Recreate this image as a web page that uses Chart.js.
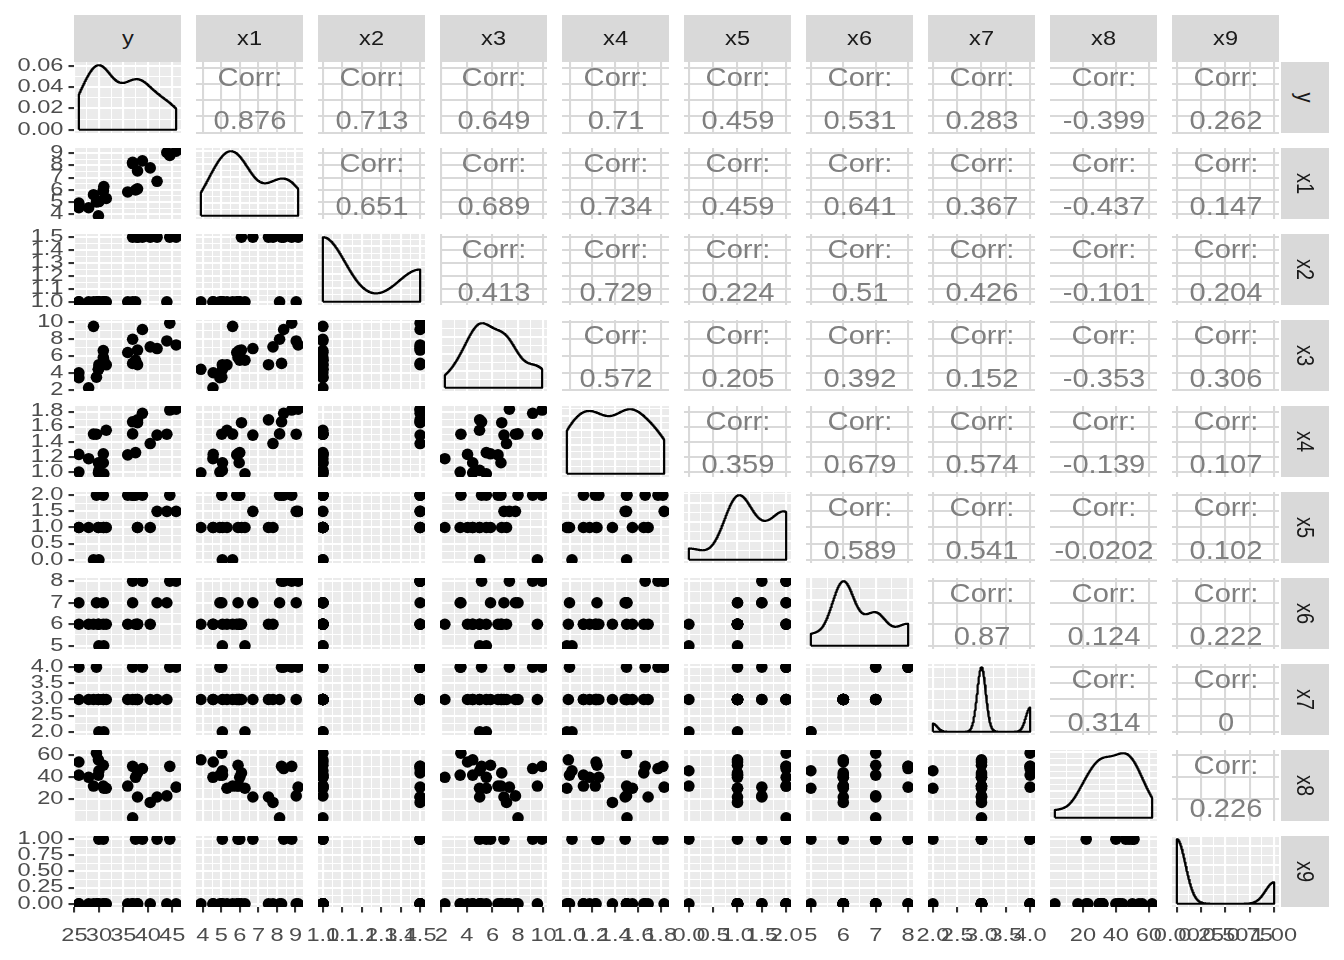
<!DOCTYPE html>
<html><head><meta charset="utf-8">
<script src="https://cdn.jsdelivr.net/npm/chart.js@4.4.1/dist/chart.umd.min.js"></script>
<style>
html,body{margin:0;padding:0;background:#fff;}
#wrap{position:relative;width:1344px;height:960px;overflow:hidden;font-family:'Liberation Sans',Arial,Helvetica,sans-serif;}
#wrap canvas{position:absolute;}
.strip{position:absolute;background:#D9D9D9;color:#1A1A1A;font-size:20px;display:flex;align-items:center;justify-content:center;}
.strip span{display:inline-block;transform:scaleX(1.18);}
.strip.r span{transform:rotate(90deg) scaleY(1.18);}
.corr{position:absolute;color:#7F7F7F;font-size:26.5px;line-height:28px;white-space:nowrap;transform:translateX(-50%) scaleX(1.1);}
</style></head>
<body><div id="wrap"></div>
<script>
// ---- data: 24 observations ----
const varNames = ['y','x1','x2','x3','x4','x5','x6','x7','x8','x9'];
const yVals  = [25.9,29.5,27.9,25.9,29.9,29.9,30.9,28.9,35.9,31.5,31.0,30.9,30.0,36.9,41.9,40.5,43.9,37.5,37.9,44.5,37.9,38.9,36.9,45.8];
const x1Vals = [4.9176,5.0208,4.5429,4.5573,5.0597,3.8910,5.8980,5.6039,5.8282,5.3003,6.2712,5.9592,5.0500,8.2464,6.6969,7.7841,9.0384,5.9894,7.5422,8.7951,6.0831,8.3607,8.1400,9.1416];
const x2Vals = [1.0,1.0,1.0,1.0,1.0,1.0,1.0,1.0,1.0,1.0,1.0,1.0,1.0,1.5,1.5,1.5,1.0,1.0,1.5,1.5,1.5,1.5,1.0,1.5];
const x3Vals = [3.472,3.531,2.275,4.050,4.455,4.455,5.850,9.520,6.435,4.988,5.520,6.666,5.000,5.150,6.902,7.102,7.800,5.520,5.000,9.890,6.727,9.150,8.000,7.326];
const x4Vals = [0.998,1.500,1.175,1.232,1.121,0.988,1.240,1.501,1.225,1.552,0.975,1.121,1.020,1.664,1.488,1.376,1.500,1.256,1.690,1.820,1.652,1.777,1.504,1.831];
const x5Vals = [1,2,1,1,1,1,1,0,2,1,1,2,0,2,1.5,1,1.5,2,1,2,1,2,2,1.5];
const x6Vals = [7,7,6,6,6,6,7,6,6,6,5,6,5,8,7,6,7,6,6,8,6,8,7,8];
const x7Vals = [4,4,3,3,3,3,3,3,3,3,2,3,2,4,3,3,3,3,3,4,3,4,3,4];
const x8Vals = [42,62,40,54,42,56,51,32,32,30,30,32,46,50,22,17,23,40,22,50,44,48,3,31];
const x9Vals = [0,0,0,0,0,0,1,0,0,0,0,0,1,0,1,0,0,1,0,1,0,1,0,0];

// ---- tick labels ----
const yTicks  = ['25','30','35','40','45'];
const x1Ticks = ['4','5','6','7','8','9'];
const x2Ticks = ['1.0','1.1','1.2','1.3','1.4','1.5'];
const x3Ticks = ['2','4','6','8','10'];
const x4Ticks = ['1.0','1.2','1.4','1.6','1.8'];
const x5Ticks = ['0.0','0.5','1.0','1.5','2.0'];
const x6Ticks = ['5','6','7','8'];
const x7Ticks = ['2.0','2.5','3.0','3.5','4.0'];
const x8Ticks = ['20','40','60'];
const x9Ticks = ['0.00','0.25','0.50','0.75','1.00'];
const yDensTicks = ['0.00','0.02','0.04','0.06'];

// ---- correlation labels (upper triangle, by row) ----
const corrY  = ['0.876','0.713','0.649','0.71','0.459','0.531','0.283','-0.399','0.262'];
const corrX1 = ['0.651','0.689','0.734','0.459','0.641','0.367','-0.437','0.147'];
const corrX2 = ['0.413','0.729','0.224','0.51','0.426','-0.101','0.204'];
const corrX3 = ['0.572','0.205','0.392','0.152','-0.353','0.306'];
const corrX4 = ['0.359','0.679','0.574','-0.139','0.107'];
const corrX5 = ['0.589','0.541','-0.0202','0.102'];
const corrX6 = ['0.87','0.124','0.222'];
const corrX7 = ['0.314','0'];
const corrX8 = ['0.226'];

const valsList  = [yVals,x1Vals,x2Vals,x3Vals,x4Vals,x5Vals,x6Vals,x7Vals,x8Vals,x9Vals];
const ticksList = [yTicks,x1Ticks,x2Ticks,x3Ticks,x4Ticks,x5Ticks,x6Ticks,x7Ticks,x8Ticks,x9Ticks];
const corrRows  = [corrY,corrX1,corrX2,corrX3,corrX4,corrX5,corrX6,corrX7,corrX8];

// ---- layout ----
const W = 107, H = 71, P = 28, AXW = 74, AXH = 46;
const colLeft = j => 74 + 122 * j;
const rowTop  = i => 62 + 86 * i;
const AXIS_FONT = { family: "'Liberation Sans', Arial, Helvetica, sans-serif", size: 17.5 };
const LABEL_STRETCH = 1.35;

Chart.defaults.font.family = "'Liberation Sans', Arial, Helvetica, sans-serif";

function expandRange(lo, hi) { const d = hi - lo; return [lo - 0.05 * d, hi + 0.05 * d]; }
function varRange(v) { return expandRange(Math.min(...v), Math.max(...v)); }

function withMinors(majVals, majLabs, min, max) {
  const step = majVals.length > 1 ? majVals[1] - majVals[0] : 1;
  const out = majVals.map((v, k) => ({ value: v, lab: majLabs[k], minor: false }))
    .filter(t => t.value >= min - 1e-12 && t.value <= max + 1e-12);
  const mins = [majVals[0] - step / 2, majVals[majVals.length - 1] + step / 2];
  for (let k = 0; k < majVals.length - 1; k++) mins.push((majVals[k] + majVals[k + 1]) / 2);
  mins.filter(v => v >= min && v <= max).forEach(v => out.push({ value: v, lab: '', minor: true }));
  return out.sort((a, b) => a.value - b.value);
}
function labelTicks(labs, min, max) { return withMinors(labs.map(Number), labs, min, max); }
function niceMajors(min, max) {
  const raw = (max - min) / 4;
  const p = Math.pow(10, Math.floor(Math.log10(raw)));
  const f = raw / p;
  const step = (f < 1.5 ? 1 : f < 2.25 ? 2 : f < 3.5 ? 2.5 : f < 7.5 ? 5 : 10) * p;
  const out = [];
  for (let v = Math.ceil(min / step) * step; v <= max + 1e-12; v += step) out.push(+v.toFixed(10));
  return out;
}

// density (gaussian kernel, bw.nrd0) computed from the observations
function q7(s, p) { const h = (s.length - 1) * p, lo = Math.floor(h); const hi = Math.min(lo + 1, s.length - 1); return s[lo] + (h - lo) * (s[hi] - s[lo]); }
function bwNrd0(v) {
  const n = v.length, m = v.reduce((a, b) => a + b, 0) / n;
  const sd = Math.sqrt(v.reduce((a, b) => a + (b - m) * (b - m), 0) / (n - 1));
  const s = [...v].sort((a, b) => a - b);
  let lo = Math.min(sd, (q7(s, 0.75) - q7(s, 0.25)) / 1.34);
  if (!lo) lo = sd || Math.abs(v[0]) || 1;
  return 0.9 * lo * Math.pow(n, -0.2);
}
function densityPolygon(v) {
  const bw = bwNrd0(v), lo = Math.min(...v), hi = Math.max(...v), n = v.length;
  const pts = [{ x: lo, y: 0 }];
  let mx = 0;
  for (let k = 0; k < 512; k++) {
    const x = lo + (hi - lo) * k / 511;
    let s = 0;
    for (const xi of v) { const z = (x - xi) / bw; s += Math.exp(-0.5 * z * z); }
    const y = s / (n * bw * Math.sqrt(2 * Math.PI));
    if (y > mx) mx = y;
    pts.push({ x, y });
  }
  pts.push({ x: hi, y: 0 }, { x: lo, y: 0 });
  return { pts, mx };
}

const bgPlugin = {
  id: 'panelBg',
  beforeDraw(chart, args, opts) {
    const a = chart.chartArea, c = chart.ctx;
    c.save(); c.fillStyle = opts.color; c.fillRect(a.left, a.top, a.right - a.left, a.bottom - a.top); c.restore();
    // tick labels in the reference are drawn horizontally widened
    if (!c._origFillText) {
      const orig = c.fillText;
      c._origFillText = orig;
      c.fillText = function (t, x, y, mw) {
        this.save(); this.translate(x, y); this.scale(LABEL_STRETCH, 1);
        orig.call(this, t, 0, 0); this.restore();
      };
    }
  },
  beforeDatasetsDraw(chart) {
    const c = chart.ctx;
    if (c._origFillText) { c.fillText = c._origFillText; delete c._origFillText; }
  }
};

function scaleCfg(axis, tickArr, min, max, show, majorColor, minorColor) {
  return {
    type: 'linear', position: axis === 'x' ? 'bottom' : 'left', min, max, bounds: 'data',
    grid: {
      display: true, drawOnChartArea: true, drawTicks: show,
      tickLength: 5.5, tickWidth: 2.1,
      tickColor: c => (c.tick && c.tick.minor) ? 'rgba(0,0,0,0)' : '#333333',
      color: c => (c.tick && c.tick.minor) ? minorColor : majorColor,
      lineWidth: c => (c.tick && c.tick.minor) ? 1.05 : 2.1
    },
    border: { display: false },
    ticks: {
      display: show, autoSkip: false, maxRotation: 0, minRotation: 0,
      padding: axis === 'x' ? 13 : 5, color: '#4D4D4D', font: AXIS_FONT,
      callback: (v, i, t) => (t[i] && t[i].lab) || ''
    },
    afterBuildTicks: s => { s.ticks = tickArr.map(t => ({ value: t.value, lab: t.lab, minor: t.minor })); },
    afterFit: s => {
      if (axis === 'x') s.height = show ? AXH : 0; else s.width = show ? AXW : 0;
      s.paddingLeft = 0; s.paddingRight = 0; s.paddingTop = 0; s.paddingBottom = 0;
    }
  };
}

const wrap = document.getElementById('wrap');
const N = varNames.length;

for (let i = 0; i < N; i++) {
  for (let j = 0; j < N; j++) {
    const showY = j === 0, showX = i === N - 1;
    const padL = showY ? 0 : P, padB = showX ? 0 : P;
    const cw = (showY ? AXW : P) + W + P;
    const ch = P + H + (showX ? AXH : P);
    const cv = document.createElement('canvas');
    cv.width = cw; cv.height = ch;
    cv.style.left = (colLeft(j) - (showY ? AXW : P)) + 'px';
    cv.style.top = (rowTop(i) - P) + 'px';
    cv.style.width = cw + 'px'; cv.style.height = ch + 'px';
    wrap.appendChild(cv);

    const [xmin, xmax] = varRange(valsList[j]);
    const xt = labelTicks(ticksList[j], xmin, xmax);
    let ymin, ymax, yt, datasets = [], bg, major, minor;

    if (i === j) {
      const d = densityPolygon(valsList[j]);
      [ymin, ymax] = expandRange(0, d.mx);
      if (i === 0) yt = labelTicks(yDensTicks, ymin, ymax);
      else { const mj = niceMajors(ymin, ymax); yt = withMinors(mj, mj.map(String), ymin, ymax); }
      datasets = [{ data: d.pts, showLine: true, borderColor: '#000', borderWidth: 2.2, pointRadius: 0, pointHoverRadius: 0, fill: false, tension: 0, clip: 0, borderJoinStyle: 'round' }];
      bg = '#EBEBEB'; major = '#FFFFFF'; minor = '#FFFFFF';
    } else {
      [ymin, ymax] = varRange(valsList[i]);
      yt = labelTicks(ticksList[i], ymin, ymax);
      if (i > j) {
        const pts = valsList[j].map((xv, k) => ({ x: xv, y: valsList[i][k] }));
        datasets = [{ data: pts, pointRadius: 5.8, pointHoverRadius: 5.8, pointBackgroundColor: '#000', pointBorderWidth: 0, borderWidth: 0, showLine: false, clip: 0 }];
        bg = '#EBEBEB'; major = '#FFFFFF'; minor = '#FFFFFF';
      } else {
        bg = '#FFFFFF'; major = '#D9D9D9'; minor = 'rgba(0,0,0,0)';
      }
    }

    new Chart(cv, {
      type: 'scatter',
      data: { datasets },
      plugins: [bgPlugin],
      options: {
        responsive: false, animation: false, events: [], devicePixelRatio: 1,
        layout: { padding: { left: padL, right: P, top: P, bottom: padB } },
        plugins: { legend: { display: false }, tooltip: { enabled: false }, panelBg: { color: bg } },
        scales: {
          x: scaleCfg('x', xt, xmin, xmax, showX, major, minor),
          y: scaleCfg('y', yt, ymin, ymax, showY, major, minor)
        }
      }
    });

    if (i < j) {
      const cx = colLeft(j) + W / 2;
      const l1 = document.createElement('div');
      l1.className = 'corr'; l1.textContent = 'Corr:';
      l1.style.left = cx + 'px'; l1.style.top = (rowTop(i) + 1) + 'px';
      const l2 = document.createElement('div');
      l2.className = 'corr'; l2.textContent = corrRows[i][j - i - 1];
      l2.style.left = cx + 'px'; l2.style.top = (rowTop(i) + 44) + 'px';
      wrap.appendChild(l1); wrap.appendChild(l2);
    }
  }
}

// strips
for (let j = 0; j < N; j++) {
  const s = document.createElement('div');
  s.className = 'strip';
  s.style.left = colLeft(j) + 'px'; s.style.top = '15px';
  s.style.width = W + 'px'; s.style.height = '47px';
  const sp = document.createElement('span'); sp.textContent = varNames[j];
  s.appendChild(sp);
  wrap.appendChild(s);
}
for (let i = 0; i < N; i++) {
  const s = document.createElement('div');
  s.className = 'strip r';
  s.style.left = '1281px'; s.style.top = rowTop(i) + 'px';
  s.style.width = '48px'; s.style.height = H + 'px';
  const sp = document.createElement('span'); sp.textContent = varNames[i];
  s.appendChild(sp);
  wrap.appendChild(s);
}
</script>
</body></html>
